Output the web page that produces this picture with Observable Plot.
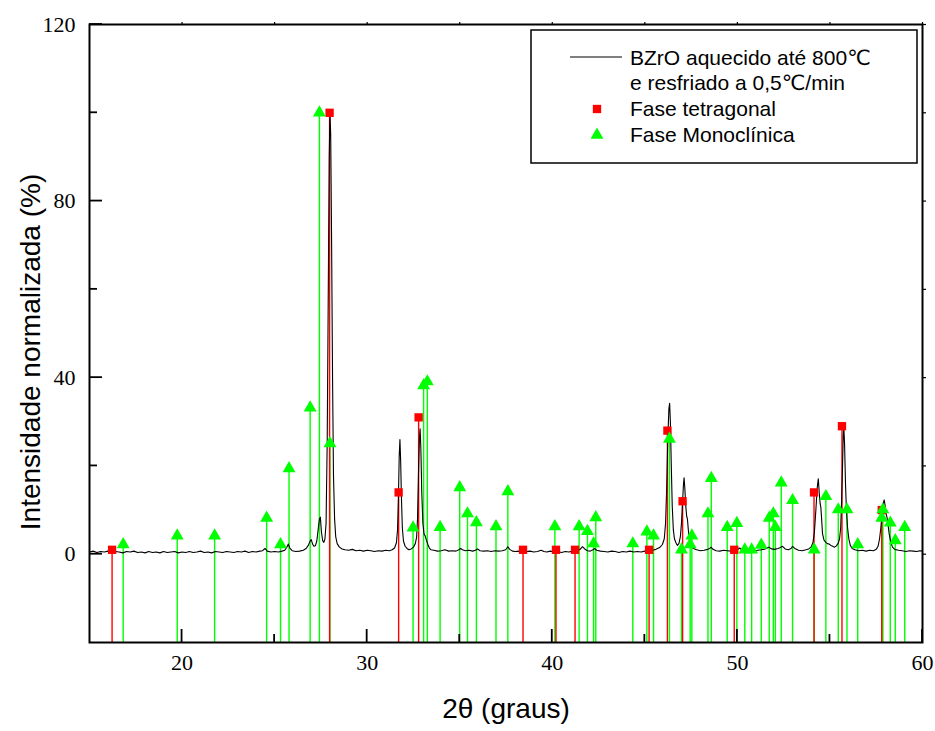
<!DOCTYPE html>
<html>
<head>
<meta charset="utf-8">
<script src="https://cdn.jsdelivr.net/npm/d3@7"></script>
<script src="https://cdn.jsdelivr.net/npm/@observablehq/plot@0.6"></script>
<style>
  body { margin: 0; background: #fff; }
  #chart svg { display: block; }
</style>
</head>
<body>
<div id="chart"></div>
<script>
// ---- Data ----
// XRD pattern (2θ, normalized intensity %)
const patternPoints = [
  [15.00,0.5],[15.20,0.7],[15.40,0.4],[15.60,0.6],[15.80,0.5],[16.00,0.7],[16.20,0.4],[16.40,0.6],
  [16.60,0.5],[16.80,0.3],[17.00,0.6],[17.20,0.5],[17.40,0.7],[17.60,0.4],[17.80,0.5],[18.00,0.3],
  [18.20,0.6],[18.40,0.4],[18.60,0.5],[18.80,0.3],[19.00,0.6],[19.20,0.4],[19.40,0.5],[19.60,0.6],
  [19.80,0.3],[20.00,0.5],[20.20,0.4],[20.40,0.6],[20.60,0.4],[20.80,0.5],[21.00,0.7],[21.20,0.4],
  [21.40,0.5],[21.60,0.3],[21.80,0.6],[22.00,0.5],[22.20,0.4],[22.40,0.6],[22.60,0.5],[22.80,0.4],
  [23.00,0.6],[23.20,0.5],[23.40,0.7],[23.60,0.4],[23.80,0.6],[24.00,0.5],[24.20,0.7],[24.35,0.8],
  [24.48,1.3],[24.60,0.7],[24.80,0.5],[25.00,0.6],[25.20,0.5],[25.40,0.7],[25.55,0.9],[25.66,1.6],
  [25.74,2.3],[25.82,1.4],[25.95,0.8],[26.15,0.6],[26.35,0.7],[26.55,0.9],[26.70,1.3],[26.82,2.0],
  [26.92,3.0],[26.98,3.3],[27.05,2.3],[27.12,1.8],[27.20,1.9],[27.28,3.0],[27.35,5.5],[27.42,8.0],
  [27.47,8.4],[27.53,5.0],[27.60,3.0],[27.66,2.7],[27.72,3.5],[27.78,7],[27.84,25],[27.90,60],
  [27.95,90],[27.99,100],[28.03,95],[28.08,70],[28.13,40],[28.18,18],[28.24,8],[28.30,4],
  [28.38,2.4],[28.50,1.6],[28.65,1.2],[28.80,1.0],[29.00,0.9],[29.20,1.1],[29.40,0.8],[29.60,0.9],
  [29.80,0.7],[30.00,0.9],[30.20,0.8],[30.40,0.6],[30.60,0.8],[30.80,0.7],[31.00,0.9],[31.20,0.8],
  [31.35,1.0],[31.48,1.4],[31.58,2.6],[31.64,5.5],[31.69,13],[31.73,22],[31.77,26],[31.81,21],
  [31.85,13],[31.90,6],[31.96,3.0],[32.05,1.8],[32.15,1.3],[32.26,1.0],[32.38,1.2],[32.50,1.6],
  [32.60,2.4],[32.67,3.8],[32.72,8],[32.77,18],[32.82,26],[32.86,28.4],[32.90,24],[32.95,14],
  [33.01,7],[33.07,4.6],[33.13,4.2],[33.20,3.2],[33.28,2.2],[33.36,1.4],[33.45,1.0],[33.60,0.9],
  [33.80,0.7],[34.00,0.8],[34.20,1.0],[34.40,0.7],[34.60,0.8],[34.80,0.7],[34.95,1.0],[35.05,1.3],
  [35.15,1.0],[35.30,0.8],[35.50,0.9],[35.70,0.7],[35.85,0.9],[35.96,1.2],[36.10,0.8],[36.30,0.7],
  [36.50,0.8],[36.70,0.6],[36.90,0.8],[37.10,0.7],[37.30,0.8],[37.48,1.0],[37.60,1.7],[37.70,1.1],
  [37.85,0.7],[38.00,0.6],[38.20,0.7],[38.40,0.5],[38.60,0.6],[38.80,0.7],[39.00,0.5],[39.20,0.6],
  [39.40,0.9],[39.55,0.6],[39.70,0.5],[39.90,0.7],[40.10,0.5],[40.30,0.6],[40.50,0.4],[40.70,0.6],
  [40.90,0.5],[41.10,0.7],[41.30,0.8],[41.50,1.1],[41.63,1.7],[41.75,1.2],[41.90,0.8],[42.05,0.7],
  [42.20,1.0],[42.28,1.3],[42.40,0.9],[42.60,0.7],[42.80,0.6],[43.00,0.5],[43.20,0.7],[43.40,0.6],
  [43.60,0.4],[43.80,0.6],[44.00,0.5],[44.20,0.7],[44.40,0.5],[44.60,0.6],[44.80,0.5],[45.00,0.7],
  [45.20,0.8],[45.40,0.9],[45.60,1.1],[45.80,1.5],[45.95,2.2],[46.05,3.5],[46.12,7],[46.18,15],
  [46.24,26],[46.30,33],[46.34,34.2],[46.38,30],[46.43,20],[46.48,11],[46.54,5.5],[46.60,3.5],
  [46.68,2.6],[46.76,2.0],[46.84,2.4],[46.92,4],[46.98,7],[47.04,12],[47.09,16],[47.12,17.3],
  [47.16,15],[47.21,11],[47.26,8.6],[47.30,8.0],[47.35,5.5],[47.41,3.1],[47.50,1.9],[47.62,1.3],
  [47.80,1.0],[48.00,0.8],[48.20,0.9],[48.40,1.1],[48.50,1.3],[48.58,1.6],[48.68,1.1],[48.85,0.8],
  [49.05,0.7],[49.25,0.9],[49.45,0.8],[49.65,0.7],[49.85,0.9],[50.00,1.0],[50.12,1.4],[50.25,1.0],
  [50.45,0.8],[50.60,0.9],[50.73,1.2],[50.90,0.8],[51.10,0.9],[51.30,1.0],[51.50,1.2],[51.70,1.6],
  [51.85,1.2],[52.00,1.1],[52.20,1.3],[52.32,1.5],[52.44,1.8],[52.58,1.2],[52.75,1.0],[52.90,1.3],
  [52.98,1.8],[53.10,1.3],[53.30,0.9],[53.50,0.8],[53.70,1.0],[53.85,1.2],[53.98,1.6],[54.08,2.6],
  [54.16,5],[54.24,10],[54.31,15],[54.37,17.1],[54.42,14],[54.47,11.5],[54.51,10.6],[54.55,8],
  [54.60,4.6],[54.68,3.2],[54.78,2.7],[54.86,2.4],[54.95,2.3],[55.05,2.0],[55.15,1.8],[55.25,1.6],
  [55.35,1.9],[55.45,2.5],[55.52,3.5],[55.58,6],[55.63,12],[55.68,20],[55.72,27],[55.75,28.8],
  [55.79,25],[55.84,16],[55.89,10],[55.95,6.1],[56.02,3.5],[56.10,2.0],[56.20,1.3],[56.35,1.0],
  [56.55,0.8],[56.75,0.9],[56.95,0.7],[57.15,0.9],[57.35,0.8],[57.50,1.1],[57.60,1.8],[57.68,3.5],
  [57.75,6],[57.82,9.5],[57.88,11.5],[57.93,12.3],[57.98,11],[58.04,9],[58.08,8.4],[58.13,7],
  [58.20,4.6],[58.28,2.8],[58.38,1.6],[58.50,1.1],[58.70,0.9],[58.90,0.8],[59.10,0.6],[59.30,0.8],
  [59.50,0.7],[59.70,0.6],[59.85,0.8],[60.00,0.7]
];

// Tetragonal phase reference lines
const tetraPos = [16.22, 27.97, 31.70, 32.78, 38.42, 40.20, 41.23, 45.23, 46.22, 47.04, 49.83, 54.14, 55.65, 57.80];
const tetraInt = [1, 100, 14, 31, 1, 1, 1, 1, 28, 12, 1, 14, 29, 10];

// Monoclinic phase reference lines
const monoPos = [16.82, 19.74, 21.76, 24.57, 25.32, 25.78, 26.92, 27.42, 27.99, 32.48, 33.05, 33.25,
  33.94, 35.00, 35.42, 35.90, 36.96, 37.60, 40.14, 41.45, 41.90, 42.23, 42.35, 44.35, 45.11, 45.47,
  46.33, 46.98, 47.45, 47.54, 48.41, 48.59, 49.45, 49.97, 50.40, 50.77, 51.29, 51.72, 51.94, 52.05,
  52.37, 52.98, 54.15, 54.78, 55.45, 55.92, 56.50, 57.80, 57.86, 58.26, 58.53, 59.04];
const monoInt = [2.2, 4.2, 4.2, 8.2, 2.2, 19.4, 33.2, 100, 25.1, 6, 38.2, 39.1,
  6.1, 15.1, 9.2, 7.2, 6.3, 14.2, 6.3, 6.3, 5.2, 2.4, 8.3, 2.4, 5.1, 4.2,
  26.1, 1, 2.2, 4.2, 9.2, 17.2, 6.1, 7, 1, 1, 2.1, 8.2, 9.2, 6.1,
  16.2, 12.2, 1, 13.1, 10.1, 10.1, 2.2, 8.2, 10.1, 7.1, 3.1, 6.1];

// Axes
const xDomain = [15, 60];
const yDomain = [-20, 120];
const xMajorTicks = [20, 30, 40, 50, 60];
const xMinorTicks = [25, 35, 45, 55];
const yMajorTicks = [0, 40, 80, 120];
const yMinorTicks = [20, 60, 100];
const xTitle = "2θ (graus)";
const yTitle = "Intensidade normalizada (%)";
const legendLine1 = "BZrO aquecido até 800℃";
const legendLine2 = "e resfriado a 0,5℃/min";
const legendTetra = "Fase tetragonal";
const legendMono = "Fase Monoclínica";

// ---- Build tables ----
const pattern = patternPoints.map(([x, y]) => ({x, y}));
const tetra = tetraPos.map((x, i) => ({x, y: tetraInt[i]}));
const mono = monoPos.map((x, i) => ({x, y: monoInt[i]}));
const base = yDomain[0];

const RED = "#ff0000", GREEN = "#00ff00";
const serif = "'Liberation Serif', 'Times New Roman', serif";
const sans = "'Liberation Sans', Arial, 'DejaVu Sans', sans-serif";

const W = 935, H = 731, ML = 89, MR = 13, MT = 24, MB = 89;
const tickMajor = 13, tickMinor = 8;

const chart = Plot.plot({
  width: W,
  height: H,
  marginLeft: ML,
  marginRight: MR,
  marginTop: MT,
  marginBottom: MB,
  style: {background: "#fff", color: "#000"},
  x: {domain: xDomain},
  y: {domain: yDomain},
  marks: [
    // reference sticks
    Plot.ruleX(mono, {x: "x", y1: () => base, y2: "y", stroke: GREEN, strokeWidth: 1.4}),
    Plot.ruleX(tetra, {x: "x", y1: () => base, y2: "y", stroke: RED, strokeWidth: 1.4}),
    // XRD pattern
    Plot.line(pattern, {x: "x", y: "y", stroke: "#000", strokeWidth: 1.1}),
    // markers
    Plot.dot(tetra, {x: "x", y: "y", symbol: "square", r: 4.7, fill: RED, stroke: null}),
    Plot.dot(mono, {x: "x", y: "y", symbol: "triangle", r: 4.8, fill: GREEN, stroke: null}),
    // tiny mirror ticks on top and right
    Plot.axisX(xMajorTicks.concat(xMinorTicks), {anchor: "top", tickSize: 3, tickFormat: () => "", label: null, strokeWidth: 1.2}),
    Plot.axisY(yMajorTicks.concat(yMinorTicks), {anchor: "right", tickSize: 3, tickFormat: () => "", label: null, strokeWidth: 1.2}),
    // tick labels
    Plot.axisX(xMajorTicks, {anchor: "bottom", tickSize: 0, tickPadding: 12, label: null, fontSize: 22, fontFamily: serif, fill: "#000"}),
    Plot.axisY(yMajorTicks, {anchor: "left", tickSize: 0, tickPadding: 14, label: null, fontSize: 22, fontFamily: serif, fill: "#000"}),
    // x axis title
    Plot.text([xTitle], {frameAnchor: "bottom", dy: 75, text: d => d, fontSize: 28, fontFamily: sans, fill: "#000"}),
    Plot.frame({stroke: "#000", strokeWidth: 2})
  ]
});

document.getElementById("chart").appendChild(chart);

const svg = d3.select(chart);
const xs = chart.scale("x"), ys = chart.scale("y");
const bottomY = ys.apply(yDomain[0]), leftX = xs.apply(xDomain[0]);

// ---- Inward ticks (positions from Plot's scales) ----
const tg = svg.append("g").attr("stroke", "#000").attr("stroke-width", 1.8);
[[xMajorTicks, tickMajor], [xMinorTicks, tickMinor]].forEach(([ticks, len]) => {
  ticks.forEach(t => {
    const px = xs.apply(t);
    tg.append("line").attr("x1", px).attr("x2", px).attr("y1", bottomY).attr("y2", bottomY - len);
  });
});
[[yMajorTicks, tickMajor], [yMinorTicks, tickMinor]].forEach(([ticks, len]) => {
  ticks.forEach(t => {
    const py = ys.apply(t);
    tg.append("line").attr("y1", py).attr("y2", py).attr("x1", leftX).attr("x2", leftX + len);
  });
});

// ---- Y axis title ----
svg.append("text")
  .attr("transform", "translate(30,352) rotate(-90)")
  .attr("text-anchor", "middle")
  .attr("dominant-baseline", "central")
  .attr("font-family", sans).attr("font-size", 28).attr("fill", "#000")
  .text(yTitle);

// ---- Legend (inside plot, top right) ----
const lg = svg.append("g").attr("font-family", sans).attr("font-size", 21)
  .attr("fill", "#000").attr("text-anchor", "start");
lg.append("rect").attr("x", 531).attr("y", 30).attr("width", 386).attr("height", 133)
  .attr("fill", "#fff").attr("stroke", "#000").attr("stroke-width", 1.5);
lg.append("line").attr("x1", 570).attr("x2", 622).attr("y1", 57).attr("y2", 57)
  .attr("stroke", "#000").attr("stroke-width", 1.1);
const sq = d3.symbol(d3.symbolSquare, 4.7 * 4.7 * Math.PI)();
const tri = d3.symbol(d3.symbolTriangle, 4.8 * 4.8 * Math.PI)();
lg.append("path").attr("d", sq).attr("transform", "translate(597,109)").attr("fill", RED);
lg.append("path").attr("d", tri).attr("transform", "translate(597,135)").attr("fill", GREEN);
[[legendLine1, 65], [legendLine2, 90], [legendTetra, 116], [legendMono, 142]].forEach(([t, y]) => {
  lg.append("text").attr("x", 630).attr("y", y).attr("text-anchor", "start").text(t);
});
</script>
</body>
</html>
